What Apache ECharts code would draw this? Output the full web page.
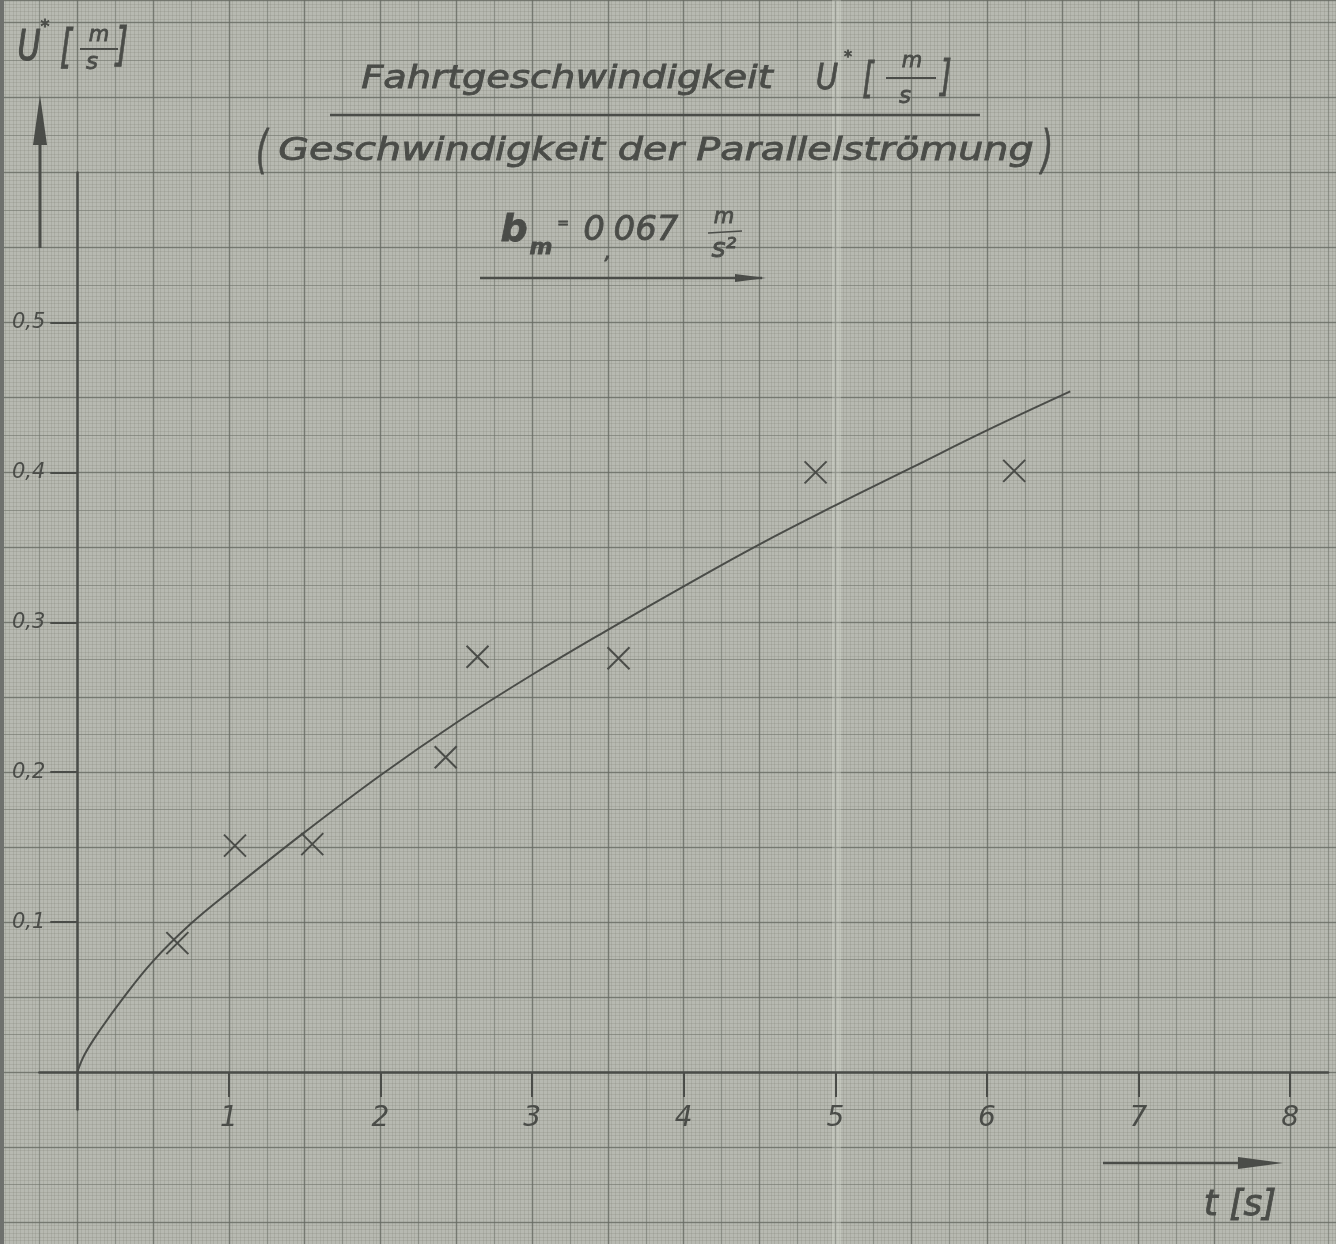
<!DOCTYPE html>
<html>
<head>
<meta charset="utf-8">
<script src="https://cdn.jsdelivr.net/npm/echarts@6/dist/echarts.min.js"></script>
<style>html,body{margin:0;padding:0;background:#b7b9b1;}#c{width:1336px;height:1244px;}</style>
</head>
<body>
<div id="c"></div>
<script>
// ---- data ----
const measT = [0.66, 1.04, 1.55, 2.43, 2.64, 3.57, 4.87, 6.18];
const measU = [0.086, 0.151, 0.152, 0.210, 0.277, 0.276, 0.400, 0.401];
const curveT = [0, 0.05, 0.15, 0.3, 0.5, 0.75, 1, 1.5, 2, 2.5, 3, 3.5, 4, 4.5, 5, 5.5, 6, 6.55];
const curveU = [0, 0.012, 0.028, 0.049, 0.074, 0.099, 0.120, 0.160, 0.198, 0.233, 0.265, 0.295, 0.324, 0.352, 0.378, 0.403, 0.428, 0.454];
const xTicks = [1, 2, 3, 4, 5, 6, 7, 8];
const yTicks = [0.1, 0.2, 0.3, 0.4, 0.5];
const titleLine1 = 'Fahrtgeschwindigkeit';
const titleLine2 = 'Geschwindigkeit der Parallelströmung';
const xName = 't [s]';

const INK = '#4a4c48';
const FONT = '"DejaVu Sans", sans-serif';

const chart = echarts.init(document.getElementById('c'), null, {renderer: 'canvas'});

// paper grids (graph paper texture)
const PX = 151.6, PY = 1499;
const paperGrid = {left: 77.3 - 0.5 * PX, top: 0, width: (8.31 + 0.5) * PX, height: (0.7151 + 0.15) * PY, outerBoundsMode: 'none'};
function paperAxes(idx, ix, iy, color, width, z) {
  const common = {type: 'value', gridIndex: idx, silent: true, z: z,
    axisLine: {show: false}, axisTick: {show: false}, axisLabel: {show: false},
    splitLine: {show: true, lineStyle: {color: color, width: width}}};
  return [
    Object.assign({}, common, {min: -0.5, max: 8.31, interval: ix}),
    Object.assign({}, common, {min: -0.15, max: 0.7151, interval: iy})
  ];
}
const pFine = paperAxes(0, 0.025, 0.0025, 'rgba(118,122,112,0.20)', 1, 0);
const pMid = paperAxes(1, 0.25, 0.025, 'rgba(110,113,105,0.50)', 1.2, 1);
const pMaj = paperAxes(2, 0.5, 0.05, 'rgba(100,103,96,0.55)', 1.4, 2);

function txt(x, y, s, size, extra) {
  const e = extra || {};
  return {type: 'text', x: x, y: y, scaleX: e.sx || 1, scaleY: e.sy || 1, z: 100,
    style: {text: s, fill: INK, stroke: INK, lineWidth: e.lw == null ? 0.8 : e.lw,
      font: (e.style || 'italic') + ' ' + (e.weight || 'normal') + ' ' + size + 'px ' + FONT,
      textAlign: e.align || 'center', textVerticalAlign: 'middle'}};
}
function seg(x1, y1, x2, y2, w) {
  return {type: 'line', z: 100, shape: {x1: x1, y1: y1, x2: x2, y2: y2}, style: {stroke: INK, lineWidth: w || 2}};
}
function tri(points) {
  return {type: 'polygon', z: 100, shape: {points: points}, style: {fill: INK}};
}

const graphics = [
  // paper edge + fold
  {type: 'rect', z: 5, shape: {x: 0, y: 0, width: 4, height: 1244}, style: {fill: '#6f716e'}},
  {type: 'rect', z: 5, shape: {x: 832, y: 0, width: 9, height: 1244}, style: {fill: 'rgba(225,227,220,0.30)'}},
  // y axis name U*[m/s]
  txt(29, 49, 'U', 42, {sx: 0.75, lw: 1.2}),
  txt(45, 27, '*', 18),
  txt(66, 50, '[', 46, {sx: 0.7}),
  txt(99, 36, 'm', 21),
  seg(80, 49, 118, 49, 2),
  txt(92, 63, 's', 23),
  txt(122, 48, ']', 46, {sx: 0.7}),
  seg(40, 248, 40, 130, 3),
  tri([[33, 145], [40, 95], [47, 145]]),
  // title line 1
  txt(567, 80, titleLine1, 32, {sx: 1.2}),
  txt(827, 80, 'U', 36, {sx: 0.85}),
  txt(848, 58, '*', 16),
  txt(868, 82, '[', 42, {sx: 0.7}),
  txt(912, 62, 'm', 21),
  seg(886, 78, 936, 78, 2),
  txt(905, 97, 's', 23),
  txt(946, 80, ']', 42, {sx: 0.7}),
  seg(330, 115, 980, 115, 2.5),
  // title line 2
  txt(262, 153, '(', 52, {sx: 0.6}),
  txt(656, 152, titleLine2, 32, {sx: 1.24}),
  txt(1047, 153, ')', 52, {sx: 0.6}),
  // title line 3: b_m = 0,067 m/s²
  txt(514, 231, 'b', 38, {weight: 'bold'}),
  txt(541, 248, 'm', 22, {weight: 'bold'}),
  txt(563, 224, '=', 14),
  txt(594, 231, '0', 34),
  txt(608, 253, ',', 22),
  txt(646, 231, '067', 34),
  txt(724, 218, 'm', 21),
  seg(708, 233, 742, 231, 1.5),
  txt(724, 250, 's²', 27),
  seg(480, 278, 762, 278, 2.5),
  tri([[735, 274], [766, 278], [735, 282]]),
  // x axis name
  seg(1103, 1163, 1250, 1163, 2.5),
  tri([[1238, 1157], [1283, 1163], [1238, 1169]]),
  txt(1240, 1206, xName, 36)
];

const option = {
  backgroundColor: '#b7b9b1',
  animation: false,
  grid: [
    Object.assign({}, paperGrid),
    Object.assign({}, paperGrid),
    Object.assign({}, paperGrid),
    {left: 77.3 - 0.25 * PX, top: 1072 - 0.6 * PY, width: 8.5 * PX, height: 0.625 * PY, outerBoundsMode: 'none', containLabel: false}
  ],
  xAxis: [pFine[0], pMid[0], pMaj[0], {
    type: 'value', gridIndex: 3, min: -0.25, max: 8.25, z: 10,
    splitLine: {show: false},
    axisLine: {show: true, onZero: true, lineStyle: {color: INK, width: 2.5}},
    axisTick: {show: true, inside: false, length: 25, customValues: xTicks, lineStyle: {color: INK, width: 2}},
    axisLabel: {show: true, customValues: xTicks, margin: -5, color: INK, fontSize: 28, fontStyle: 'italic', fontFamily: FONT,
      formatter: v => String(v)}
  }],
  yAxis: [pFine[1], pMid[1], pMaj[1], {
    type: 'value', gridIndex: 3, min: -0.025, max: 0.6, z: 10,
    splitLine: {show: false},
    axisLine: {show: true, onZero: true, lineStyle: {color: INK, width: 2.5}},
    axisTick: {show: true, inside: false, length: 27, customValues: yTicks, lineStyle: {color: INK, width: 2}},
    axisLabel: {show: true, customValues: yTicks, margin: -6, color: INK, fontSize: 21, fontStyle: 'italic', fontFamily: FONT,
      formatter: v => v.toFixed(1).replace('.', ',')}
  }],
  series: [
    {type: 'line', xAxisIndex: 3, yAxisIndex: 3, smooth: 0.4, symbol: 'none', z: 20,
      lineStyle: {color: INK, width: 2},
      data: curveT.map((t, i) => [t, curveU[i]])},
    {type: 'scatter', xAxisIndex: 3, yAxisIndex: 3, z: 21,
      symbol: 'path://M0,0L20,20M20,0L0,20', symbolSize: 22,
      itemStyle: {color: 'rgba(0,0,0,0)', borderColor: INK, borderWidth: 2, opacity: 1},
      data: measT.map((t, i) => [t, measU[i]])}
  ],
  graphic: graphics
};
chart.setOption(option);
</script>
</body>
</html>
